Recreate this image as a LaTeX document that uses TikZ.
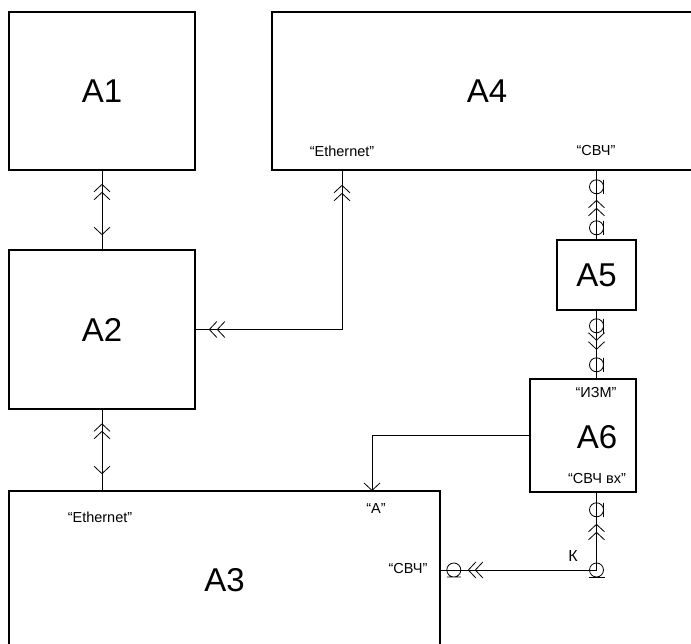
\documentclass[tikz,border=0pt]{standalone}
\usepackage{fontspec}
\setmainfont{Liberation Sans}
\usetikzlibrary{arrows.meta,decorations.markings}
\tikzset{
  chev/.tip={Straight Barb[length=7.5pt,width=16pt]},
  block/.style={draw, line width=1.6pt, rectangle, inner sep=0pt, font=\fontsize{33}{36}\selectfont},
  big/.style={inner sep=0pt, font=\fontsize{33}{36}\selectfont},
  port/.style={inner sep=0pt, font=\fontsize{14.5}{16}\selectfont},
  link/.style={line width=0.8pt},
  fwd/.style={postaction={decorate,decoration={markings,mark=at position #1 with {\arrow{chev}}}}},
  bwd/.style={postaction={decorate,decoration={markings,mark=at position #1 with {\arrowreversed{chev}}}}},
  coax/.style={postaction={decorate,decoration={markings,mark=at position #1 with
    {\draw[line width=0.8pt] (0,0) circle[radius=7pt] (-7pt,7pt) -- (7pt,7pt);}}}}
}
\begin{document}
\begin{tikzpicture}[x=1pt, y=-1pt]
    \path[use as bounding box] (0,0) rectangle (691,644);
    \clip (0,0) rectangle (691,644);
    \node [block, minimum width=186pt, minimum height=158pt] (a1) at (102,91) {A1};
    \node [block, minimum width=430pt, minimum height=158pt] (a4) at (487,91) {A4};
    \node [block, minimum width=186pt, minimum height=159pt] (a2) at (102,329.5) {A2};
    \node [block, minimum width=431pt, minimum height=178pt] (a3) at (224.5,580) {A3};
    \node [block, minimum width=79pt, minimum height=70pt] (a5) at (596.5,275) {A5};
    \node [block, minimum width=106pt, minimum height=113pt] (a6) at (583,435.5) {};
    \node [big] (a6lbl) at (597,437) {A6};
    \node [port] (a4eth) at (342,151) {“Ethernet”};
    \node [port] (a4shf) at (596,151) {“СВЧ”};
    \node [port] (a6izm) at (596,393) {“ИЗМ”};
    \node [port] (a6in) at (597,479) {“СВЧ вх”};
    \node [port] (a3eth) at (100,517) {“Ethernet”};
    \node [port] (a3a) at (376,509) {“А”};
    \node [port] (a3shf) at (408,569) {“СВЧ”};
    \node [port, font=\fontsize{16}{18}\selectfont] (klbl) at (573,556) {К};
    \coordinate (k) at (596.5,570);
    \coordinate (a3in) at (372,491);
    \draw[link, bwd=13pt, bwd=21pt, fwd=-14pt] (a1.south) -- (a2.north);
    \draw[link, bwd=13.5pt, bwd=21pt, fwd=-16pt] (a2.south) -- (a2.south |- a3.north);
    \draw[link, bwd=14pt, bwd=22pt, fwd=-13pt, fwd=-21pt] (a4.south -| a4eth) |- (a2.east);
    \draw[link, coax=16pt, bwd=29pt, bwd=37pt, coax=57pt] (a4.south -| a5) -- (a5.north);
    \draw[link, coax=15pt, fwd=30pt, fwd=39pt, coax=54pt] (a5.south) -- (a6.north -| a5);
    \draw[link, -{Straight Barb[length=7.5pt,width=16pt]}] (a6.west) -| (a3in);
    \draw[link, coax=17pt, bwd=31pt, bwd=39pt] (a6.south -| a5) -- (k);
    \draw[link, fwd=-34pt, fwd=-27pt, coax=-13pt] (k) -- (a3.east |- k);
    \draw[link] (k) circle[radius=7pt];
    \draw[link] (k) ++(-8,7.5) -- ++(16,0);
\end{tikzpicture}
\end{document}
